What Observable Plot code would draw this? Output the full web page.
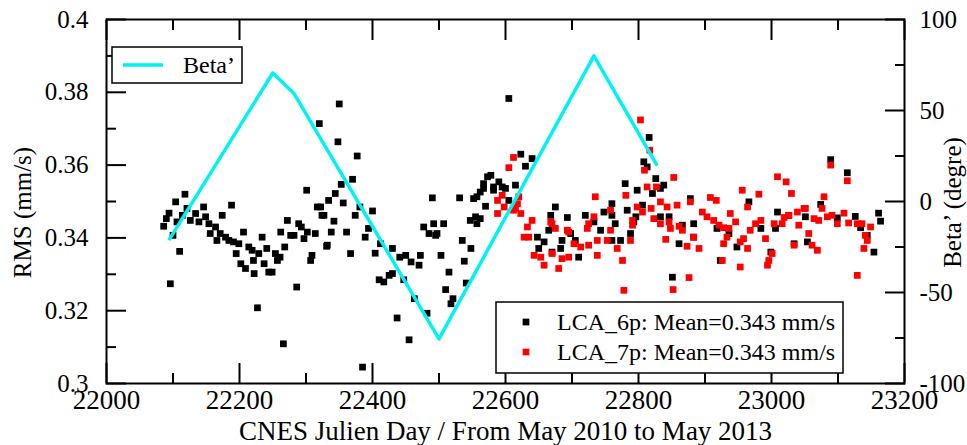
<!DOCTYPE html>
<html><head><meta charset="utf-8">
<script src="https://cdn.jsdelivr.net/npm/d3@7"></script>
<script src="https://cdn.jsdelivr.net/npm/@observablehq/plot@0.6"></script>
<style>body{margin:0;background:#fff}svg{display:block}</style>
</head><body><div id="chart"></div>
<script>
// ---- data ----
const lca6Day = [22118,22104,22094,22090,22086,22106,22114,22121,22126,22134,22139,22146,22149,22154,22174,22188,22156,22164,22166,22171,22179,22184,22191,22199,22206,22195,22202,22209,22214,22219,22222,22221,22229,22234,22237,22241,22244,22249,22254,22257,22261,22262,22268,22272,22277,22282,22289,22293,22297,22302,22307,22309,22314,22317,22324,22332,22301,22334,22110,22096,22227,22266,22286,22100,22320,22350,22348,22377,22370,22353,22344,22356,22322,22327,22342,22374,22381,22400,22338,22361,22394,22389,22331,22367,22404,22412,22430,22441,22450,22458,22470,22472,22410,22417,22425,22430,22447,22463,22485,22495,22503,22515,22510,22521,22518,22535,22548,22538,22541,22482,22437,22455,22385,22490,22531,22552,22573,22578,22567,22582,22590,22595,22600,22570,22557,22547,22555,22557,22507,22492,22477,22497,22605,22623,22640,22630,22615,22567,22582,22562,22605,22562,22675,22668,22693,22665,22648,22658,22650,22670,22685,22698,22705,22683,22710,22720,22733,22743,22748,22760,22760,22765,22773,22760,22780,22798,22783,22796,22788,22808,22813,22806,22793,22816,22826,22838,22821,22878,22833,22846,22866,22883,22833,22861,22883,22966,23009,23051,22984,22936,22948,23006,22999,23034,23054,22923,22851,23089,23114,23026,23074,23126,23161,23164,22918,23099,23134,23144,23154];
const lca6Rms = [0.3520,0.3499,0.3468,0.3453,0.3432,0.3444,0.3462,0.3481,0.3448,0.3467,0.3444,0.3485,0.3458,0.3439,0.3462,0.3490,0.3412,0.3430,0.3393,0.3412,0.3402,0.3393,0.3389,0.3384,0.3416,0.3357,0.3329,0.3316,0.3375,0.3366,0.3302,0.3338,0.3357,0.3402,0.3329,0.3371,0.3306,0.3306,0.3357,0.3338,0.3347,0.3416,0.3375,0.3448,0.3407,0.3407,0.3439,0.3430,0.3398,0.3416,0.3338,0.3352,0.3412,0.3485,0.3462,0.3380,0.3531,0.3503,0.3363,0.3274,0.3208,0.3109,0.3265,0.3407,0.3714,0.3768,0.3664,0.3625,0.3561,0.3547,0.3522,0.3496,0.3485,0.3462,0.3446,0.3462,0.3485,0.3474,0.3416,0.3416,0.3426,0.3402,0.3377,0.3357,0.3358,0.3384,0.3371,0.3347,0.3352,0.3334,0.3325,0.3352,0.3285,0.3279,0.3297,0.3302,0.3285,0.3233,0.3412,0.3407,0.3352,0.3306,0.3258,0.3233,0.3219,0.3393,0.3371,0.3336,0.3276,0.3193,0.3180,0.3120,0.3045,0.3510,0.3510,0.3508,0.3568,0.3572,0.3536,0.3540,0.3554,0.3540,0.3536,0.3487,0.3513,0.3448,0.3458,0.3439,0.3439,0.3439,0.3430,0.3412,0.3783,0.3630,0.3618,0.3597,0.3545,0.3549,0.3531,0.3526,0.3503,0.3453,0.3485,0.3462,0.3456,0.3421,0.3402,0.3389,0.3371,0.3361,0.3393,0.3412,0.3393,0.3371,0.3347,0.3462,0.3444,0.3421,0.3471,0.3494,0.3462,0.3439,0.3393,0.3393,0.3549,0.3531,0.3476,0.3458,0.3412,0.3609,0.3595,0.3490,0.3444,0.3676,0.3563,0.3545,0.3522,0.3508,0.3458,0.3458,0.3435,0.3439,0.3536,0.3384,0.3402,0.3499,0.3471,0.3458,0.3426,0.3412,0.3375,0.3426,0.3361,0.3384,0.3389,0.3338,0.3292,0.3615,0.3579,0.3462,0.3492,0.3459,0.3468,0.3446,0.3426,0.3455,0.3428,0.3407,0.3361];
const lca7Day = [22612,22605,22595,22588,22598,22588,22618,22803,22817,22809,22813,22853,22827,22781,22735,22798,22819,22833,22843,22858,22878,22908,22896,22903,22913,22758,22733,22725,22791,22791,22833,22848,22866,22640,22633,22670,22695,22623,22615,22620,22612,22628,22635,22668,22675,22643,22653,22658,22680,22670,22685,22695,22693,22703,22713,22725,22723,22738,22738,22753,22758,22768,22776,22788,22806,22778,22876,22852,23009,23022,23030,22956,22981,22917,22823,22846,22861,22841,22883,22921,22928,22936,22938,22946,22964,22968,22976,22984,22991,23001,22996,22994,23004,23016,23019,23026,23039,23049,23041,23034,22953,22964,22928,22891,22873,22926,22953,23089,23114,23079,23051,23064,23071,23076,23084,23091,23099,23109,23116,23129,23136,23149,23141,23144,23139,23056,23061,23069,22958,23129,22933];
const lca7Rms = [0.3621,0.3593,0.3517,0.3503,0.3485,0.3467,0.3494,0.3724,0.3641,0.3586,0.3540,0.3566,0.3540,0.3517,0.3513,0.3485,0.3481,0.3499,0.3485,0.3490,0.3499,0.3511,0.3471,0.3458,0.3448,0.3476,0.3458,0.3439,0.3448,0.3435,0.3439,0.3426,0.3421,0.3448,0.3430,0.3439,0.3416,0.3467,0.3481,0.3513,0.3476,0.3402,0.3402,0.3444,0.3426,0.3352,0.3347,0.3325,0.3316,0.3357,0.3343,0.3347,0.3421,0.3384,0.3375,0.3380,0.3426,0.3352,0.3393,0.3393,0.3421,0.3371,0.3338,0.3393,0.3471,0.3256,0.3291,0.3258,0.3568,0.3554,0.3522,0.3531,0.3520,0.3503,0.3453,0.3444,0.3432,0.3396,0.3402,0.3435,0.3428,0.3426,0.3467,0.3444,0.3485,0.3421,0.3439,0.3448,0.3398,0.3357,0.3338,0.3325,0.3439,0.3439,0.3456,0.3462,0.3471,0.3481,0.3435,0.3380,0.3389,0.3371,0.3384,0.3371,0.3377,0.3338,0.3320,0.3600,0.3557,0.3513,0.3481,0.3453,0.3448,0.3481,0.3458,0.3462,0.3439,0.3468,0.3441,0.3439,0.3439,0.3430,0.3407,0.3393,0.3371,0.3412,0.3380,0.3366,0.3398,0.3297,0.3402];
const betaDay = [22095, 22250, 22282, 22500, 22733, 22827];
const betaDeg = [-20.5, 70.6, 59.3, -75.5, 80, 20.4];

const xMajor = [22000, 22200, 22400, 22600, 22800, 23000, 23200];
const xMinor = [22100, 22300, 22500, 22700, 22900, 23100];
const yMajor = [0.30, 0.32, 0.34, 0.36, 0.38, 0.40];
const yMinor = [0.31, 0.33, 0.35, 0.37, 0.39];
const betaMajor = [-100, -50, 0, 50, 100];
const betaMinor = [-75, -25, 25, 75];

const xTitle = "CNES Julien Day / From May 2010 to May 2013";
const yTitle = "RMS (mm/s)";
const y2Title = "Beta’ (degre)";
const lineLegend = "Beta’";
const seriesLabels = ["LCA_6p: Mean=0.343 mm/s", "LCA_7p: Mean=0.343 mm/s"];
const seriesColors = ["#000000", "#ff0000"];

// ---- build ----
const lca6 = lca6Day.map((d, i) => ({day: d, rms: lca6Rms[i]}));
const lca7 = lca7Day.map((d, i) => ({day: d, rms: lca7Rms[i]}));
const beta = betaDay.map((d, i) => ({day: d, beta: betaDeg[i]}));
const toRms = b => 0.35 + b / 2000;  // right axis -100..100 mapped on 0.3..0.4
const fmt = d => String(+d.toFixed(2));
const FONT = "Liberation Serif";
const TF = 27;
const YF = 25;

const plot = Plot.plot({
  width: 967, height: 445,
  marginLeft: 106, marginRight: 63, marginTop: 19, marginBottom: 62,
  style: {fontFamily: FONT, background: "#fff", color: "#000", overflow: "visible"},
  x: {domain: [22000, 23200]},
  y: {domain: [0.3, 0.4]},
  marks: [
    // inward ticks
    Plot.axisX(xMajor, {anchor: "bottom", tickSize: -20, tickFormat: () => "", strokeWidth: 2, label: null}),
    Plot.axisX(xMinor, {anchor: "bottom", tickSize: -10, tickFormat: () => "", strokeWidth: 2, label: null}),
    Plot.axisX(xMajor, {anchor: "top", tickSize: -20, tickFormat: () => "", strokeWidth: 2, label: null}),
    Plot.axisX(xMinor, {anchor: "top", tickSize: -10, tickFormat: () => "", strokeWidth: 2, label: null}),
    Plot.axisY(yMajor, {anchor: "left", tickSize: -20, tickFormat: () => "", strokeWidth: 2, label: null}),
    Plot.axisY(yMinor, {anchor: "left", tickSize: -10, tickFormat: () => "", strokeWidth: 2, label: null}),
    Plot.axisY(betaMajor.map(toRms), {anchor: "right", tickSize: -20, tickFormat: () => "", strokeWidth: 2, label: null}),
    Plot.axisY(betaMinor.map(toRms), {anchor: "right", tickSize: -10, tickFormat: () => "", strokeWidth: 2, label: null}),
    // tick labels
    Plot.axisX(xMajor, {anchor: "bottom", tickSize: 0, tickPadding: 6, tickFormat: d => String(d), fontSize: TF, label: null}),
    Plot.axisY(yMajor, {anchor: "left", tickSize: 0, tickPadding: 18, tickFormat: fmt, fontSize: YF, label: null}),
    Plot.axisY(betaMajor.map(toRms), {anchor: "right", tickSize: 0, tickPadding: 15,
      tickFormat: v => String(Math.round((v - 0.35) * 2000)), fontSize: YF, label: null}),
    Plot.frame({stroke: "#000", strokeWidth: 2}),
    // data
    Plot.dot(lca6, {x: "day", y: "rms", symbol: "square", r: 3.8, fill: seriesColors[0]}),
    Plot.dot(lca7, {x: "day", y: "rms", symbol: "square", r: 3.8, fill: seriesColors[1]}),
    Plot.line(beta, {x: "day", y: d => toRms(d.beta), stroke: "#00f2f2", strokeWidth: 3.5}),
    // titles
    Plot.text([xTitle], {frameAnchor: "bottom", dy: 48, text: d => d, fontSize: TF, lineAnchor: "middle"}),
    Plot.text([yTitle], {frameAnchor: "left", dx: -84, dy: 11, rotate: -90, textAnchor: "middle", lineAnchor: "middle", text: d => d, fontSize: 25}),
    Plot.text([y2Title], {frameAnchor: "right", dx: 48, dy: 1, rotate: -90, textAnchor: "middle", lineAnchor: "middle", text: d => d, fontSize: 25})
  ]
});
document.getElementById("chart").appendChild(plot);

// ---- legends (layout only) ----
const svg = d3.select(plot);
const g1 = svg.append("g").attr("font-family", FONT).attr("text-anchor", "start");
g1.append("rect").attr("x", 112).attr("y", 47).attr("width", 130).attr("height", 36)
  .attr("fill", "#fff").attr("stroke", "#000").attr("stroke-width", 1.5);
g1.append("line").attr("x1", 123).attr("x2", 163).attr("y1", 65).attr("y2", 65)
  .attr("stroke", "#00f2f2").attr("stroke-width", 3.5);
g1.append("text").attr("x", 183).attr("y", 73).attr("font-size", 24).text(lineLegend);

const g2 = svg.append("g").attr("font-family", FONT).attr("text-anchor", "start");
g2.append("rect").attr("x", 496).attr("y", 302).attr("width", 347).attr("height", 71)
  .attr("fill", "#fff").attr("stroke", "#000").attr("stroke-width", 1.5);
const sym = d3.symbol(d3.symbolSquare, Math.PI * 3.8 * 3.8);
seriesLabels.forEach((lab, i) => {
  const yy = 322 + i * 30;
  g2.append("path").attr("d", sym()).attr("transform", `translate(526,${yy})`).attr("fill", seriesColors[i]);
  g2.append("text").attr("x", 557).attr("y", yy + 8).attr("font-size", 24).text(lab);
});
</script>
</body></html>
